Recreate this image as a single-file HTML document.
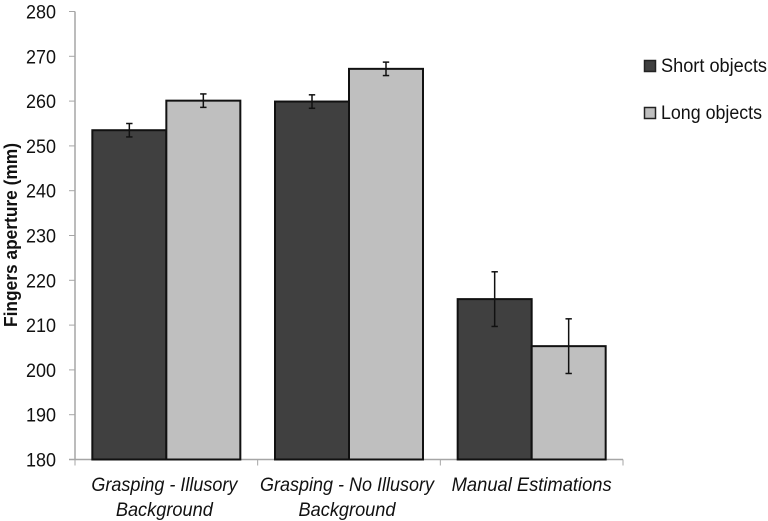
<!DOCTYPE html>
<html>
<head>
<meta charset="utf-8">
<title>Fingers aperture chart</title>
<style>
html,body{margin:0;padding:0;background:#fff;}
svg{display:block;}
text{font-family:"Liberation Sans",sans-serif;fill:#111;}
</style>
</head>
<body>
<svg id="chart" xmlns="http://www.w3.org/2000/svg" width="768" height="521" viewBox="0 0 768 521">
  <text transform="translate(17,235) rotate(-90)" text-anchor="middle" font-size="18" font-weight="bold" textLength="184" lengthAdjust="spacingAndGlyphs">Fingers aperture (mm)</text>
  <g>
    <rect x="644.5" y="60.5" width="11" height="11" fill="#404040" stroke="#222" stroke-width="1.5"/>
    <text x="661" y="72" font-size="19" textLength="106" lengthAdjust="spacingAndGlyphs">Short objects</text>
    <rect x="644.5" y="107.5" width="11" height="11" fill="#bfbfbf" stroke="#222" stroke-width="1.5"/>
    <text x="661" y="119" font-size="19" textLength="101" lengthAdjust="spacingAndGlyphs">Long objects</text>
  </g>
</svg>
<script>
var categoryLine1 = ["Grasping - Illusory", "Grasping - No Illusory", "Manual Estimations"];
var categoryLine2 = ["Background", "Background", ""];
var shortValues = [253.5, 259.9, 215.8];
var longValues = [260.1, 267.2, 205.3];
var shortErrors = [1.5, 1.5, 6.1];
var longErrors = [1.5, 1.5, 6.1];
var yTicks = [180, 190, 200, 210, 220, 230, 240, 250, 260, 270, 280];

var svg = document.getElementById('chart');
var NS = 'http://www.w3.org/2000/svg';
var plotLeft = 75, plotRight = 623, plotTop = 11.5, plotBottom = 459.5;
var yMin = 180, yMax = 280;
var barWidth = 74;

function yScale(v) {
  return plotBottom - (v - yMin) / (yMax - yMin) * (plotBottom - plotTop);
}
function groupLeft(i) {
  return plotLeft + i * (plotRight - plotLeft) / categoryLine1.length;
}
function groupCenter(i) {
  return groupLeft(i) + (plotRight - plotLeft) / categoryLine1.length / 2;
}
function make(tag, attrs) {
  var el = document.createElementNS(NS, tag);
  for (var k in attrs) { el.setAttribute(k, attrs[k]); }
  return el;
}

var axisColor = '#a6a6a6';

yTicks.forEach(function (t) {
  var y = yScale(t);
  var tick = make('line', {x1: plotLeft - 6, x2: plotLeft, y1: y, y2: y, stroke: axisColor, 'stroke-width': 1});
  
  
  svg.appendChild(tick);
  var label = make('text', {x: 56, y: y + 7, 'text-anchor': 'end', 'font-size': 19, textLength: 30, lengthAdjust: 'spacingAndGlyphs'});
  label.textContent = t;
  
  
  svg.appendChild(label);
});

var yAxis = make('line', {x1: plotLeft, x2: plotLeft, y1: plotTop, y2: plotBottom, stroke: axisColor, 'stroke-width': 1.5});


svg.appendChild(yAxis);

var xAxis = make('line', {x1: plotLeft - 6, x2: plotRight, y1: plotBottom, y2: plotBottom, stroke: axisColor, 'stroke-width': 1.5});


svg.appendChild(xAxis);

for (var g = 0; g <= categoryLine1.length; g++) {
  var xt = groupLeft(g);
  var xTick = make('line', {x1: xt, x2: xt, y1: plotBottom, y2: plotBottom + 6, stroke: axisColor, 'stroke-width': 1});
  
  
  svg.appendChild(xTick);
}

function drawBar(x, value, fill, name) {
  var top = yScale(value);
  var bar = make('rect', {x: x, y: top, width: barWidth, height: plotBottom - top, fill: fill, stroke: '#111', 'stroke-width': 2});
  
  
  svg.appendChild(bar);
}
function drawError(cx, value, err, name) {
  var hi = yScale(value + err), lo = yScale(value - err);
  var group = make('g', {stroke: '#111', 'stroke-width': 1.5, fill: 'none'});
  
  
  group.appendChild(make('line', {x1: cx, x2: cx, y1: hi, y2: lo}));
  group.appendChild(make('line', {x1: cx - 3.2, x2: cx + 3.2, y1: hi, y2: hi}));
  group.appendChild(make('line', {x1: cx - 3.2, x2: cx + 3.2, y1: lo, y2: lo}));
  svg.appendChild(group);
}

categoryLine1.forEach(function (c, i) {
  var mid = groupCenter(i);
  drawBar(mid - barWidth, shortValues[i], '#404040', 'bar-short-' + i);
  drawBar(mid, longValues[i], '#bfbfbf', 'bar-long-' + i);
  drawError(mid - barWidth / 2, shortValues[i], shortErrors[i], 'error-bar-short-' + i);
  drawError(mid + barWidth / 2, longValues[i], longErrors[i], 'error-bar-long-' + i);
});

var line1Widths = {0: 146, 1: 174, 2: 160};
var labelShift = {0: -2, 1: -2, 2: 0};
categoryLine1.forEach(function (c, i) {
  var mid = groupCenter(i) + labelShift[i];
  var l1 = make('text', {x: mid, y: 491, 'text-anchor': 'middle', 'font-size': 19, 'font-style': 'italic', textLength: line1Widths[i], lengthAdjust: 'spacingAndGlyphs'});
  l1.textContent = c;
  
  
  svg.appendChild(l1);
  if (categoryLine2[i]) {
    var l2 = make('text', {x: mid, y: 516, 'text-anchor': 'middle', 'font-size': 19, 'font-style': 'italic', textLength: 97, lengthAdjust: 'spacingAndGlyphs'});
    l2.textContent = categoryLine2[i];
    
    
    svg.appendChild(l2);
  }
});
</script>
</body>
</html>
